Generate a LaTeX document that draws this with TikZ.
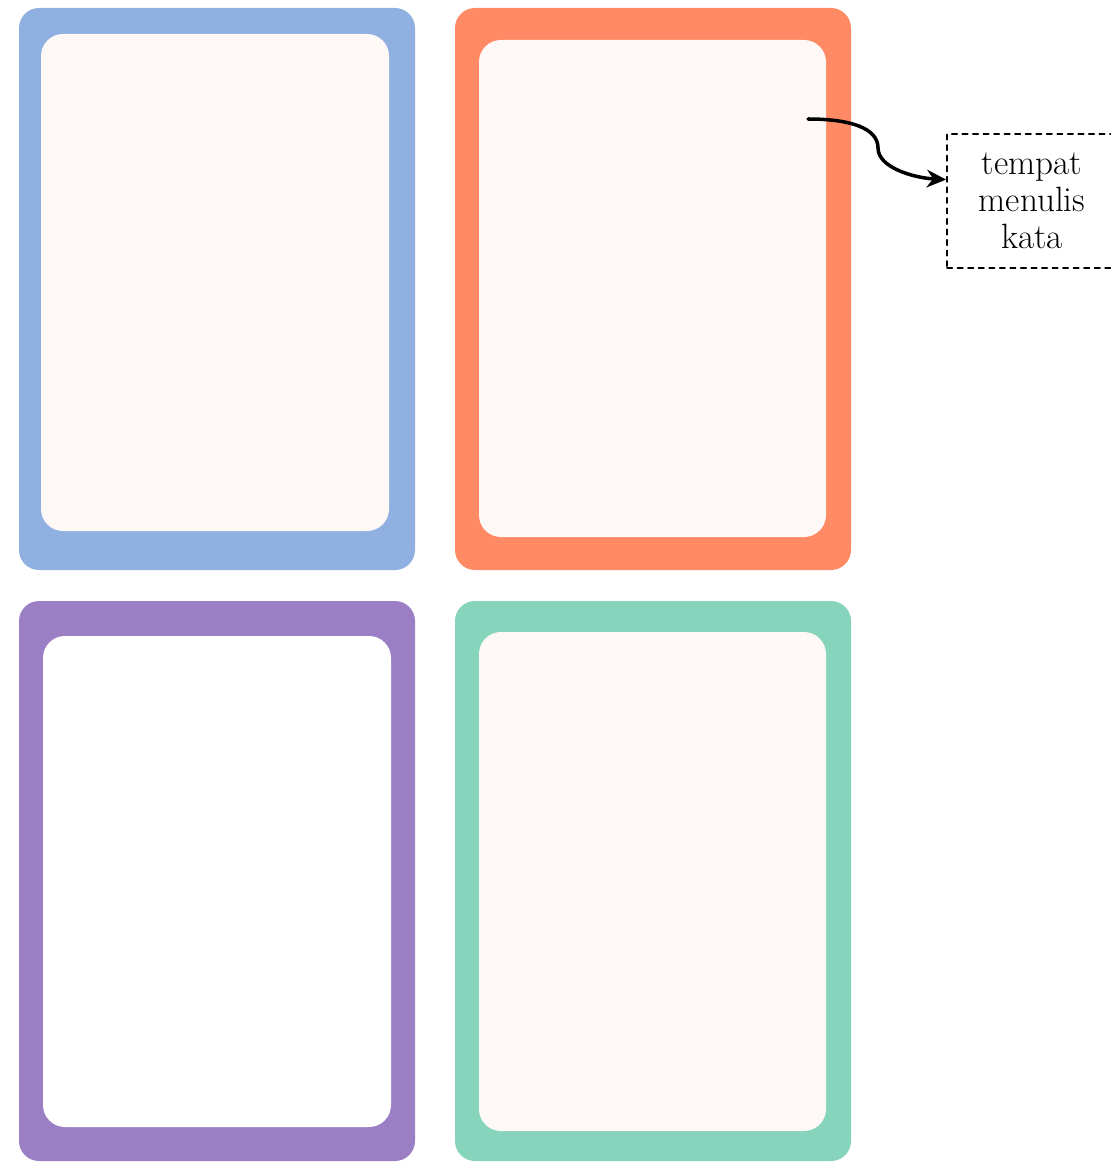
\documentclass[tikz,border=0pt]{standalone}
\usepackage{tikz}
\usetikzlibrary{arrows.meta, positioning}

\definecolor{kartubiru}{RGB}{143,176,224}
\definecolor{kartujingga}{RGB}{255,138,99}
\definecolor{kartuungu}{RGB}{155,127,196}
\definecolor{kartuhijau}{RGB}{134,212,187}
\definecolor{isikartu}{RGB}{254,248,246}

\begin{document}
\begin{tikzpicture}[x=0.02cm, y=-0.02cm, line join=round, line cap=round,
    bingkai/.style={rounded corners=0.4cm},
    isian/.style={rounded corners=0.44cm, fill=isikartu},
    keterangan/.style={draw, dashed, line width=1pt, minimum width=3.4cm,
        minimum height=2.68cm, align=center, font=\fontsize{20}{21}\selectfont}]

        \useasboundingbox (0,0) rectangle (1111,1162);

        % =========================
        % KARTU ATAS
        % =========================
        \fill[bingkai, kartubiru]   (19,8)  rectangle (415,570);
        \fill[isian]                (41,34) rectangle (389,531);

        \fill[bingkai, kartujingga] (455,8)  rectangle (851,570);
        \fill[isian]                (479,40) rectangle (826,537);

        % =========================
        % KARTU BAWAH
        % =========================
        \fill[bingkai, kartuungu]   (19,601)  rectangle (415,1161);
        \fill[isian, fill=white]    (43,636)  rectangle (391,1127);

        \fill[bingkai, kartuhijau]  (455,601) rectangle (851,1161);
        \fill[isian]                (479,632) rectangle (826,1131);

        % =========================
        % KETERANGAN
        % =========================
        \node[keterangan] (tempat) at (1032,201) {tempat\\menulis\\kata};

        \coordinate (tulis) at (808,119);

        \draw[line width=2pt, -{Stealth[length=11pt, width=10pt]}]
            (tulis) .. controls (850,119) and (878,128) .. (878,148)
            .. controls (878,168) and (915,178) .. (tempat.166);

    \end{tikzpicture}
\end{document}
